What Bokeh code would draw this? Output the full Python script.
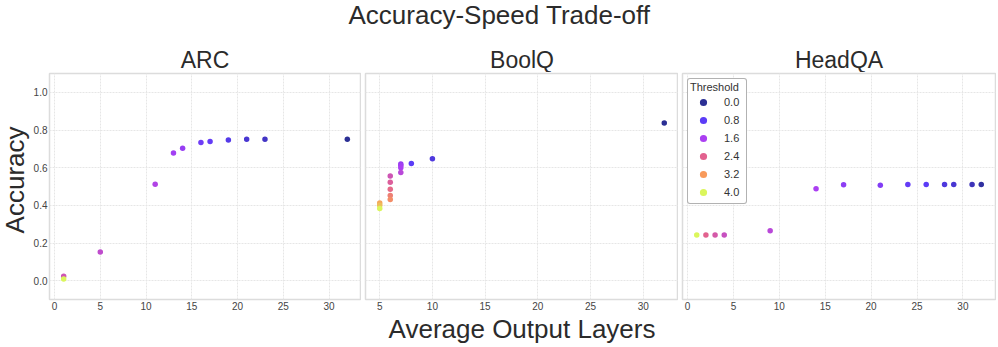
import numpy as np
from bokeh.plotting import figure
from bokeh.layouts import row, column
from bokeh.models import (Range1d, FixedTicker, LinearColorMapper, ColumnDataSource,
                          Legend, LegendItem, CustomJSTickFormatter)
from bokeh.core.properties import value
from bokeh.embed import file_html
from bokeh.resources import INLINE

# ---------------- data ----------------
TITLE = "Accuracy-Speed Trade-off"
PANEL_NAMES = ["ARC", "BoolQ", "HeadQA"]
X_LABEL = "Average Output Layers"
Y_LABEL = "Accuracy"
LEGEND_TITLE = "Threshold"

arc_layers = [1, 1, 5, 11, 13, 14, 16, 17, 19, 21, 23, 32]
arc_accuracy = [0.023, 0.009, 0.152, 0.512, 0.678, 0.703, 0.733, 0.739, 0.747, 0.751, 0.751, 0.751]
arc_threshold = [2.1, 4.0, 1.9, 1.7, 1.5, 1.4, 1.0, 0.9, 0.7, 0.5, 0.4, 0.0]

boolq_layers = [32, 10, 8, 7, 7, 7, 7, 6, 6, 6, 6, 6, 5, 5, 5]
boolq_accuracy = [0.837, 0.647, 0.622, 0.620, 0.611, 0.600, 0.574, 0.556, 0.523, 0.486,
                  0.452, 0.431, 0.412, 0.401, 0.383]
boolq_threshold = [0.0, 0.6, 0.8, 1.4, 1.5, 1.6, 1.8, 2.1, 2.3, 2.5, 2.8, 3.0, 3.3, 3.5, 4.0]

headqa_layers = [1, 2, 3, 4, 9, 14, 17, 21, 24, 26, 28, 29, 31, 32]
headqa_accuracy = [0.242, 0.242, 0.242, 0.242, 0.265, 0.488, 0.509, 0.507, 0.511, 0.511,
                   0.511, 0.511, 0.511, 0.511]
headqa_threshold = [4.0, 2.4, 2.2, 2.0, 1.8, 1.6, 1.3, 1.2, 0.9, 0.8, 0.6, 0.5, 0.3, 0.1]

legend_thresholds = [0.0, 0.8, 1.6, 2.4, 3.2, 4.0]
legend_labels = ["0.0", "0.8", "1.6", "2.4", "3.2", "4.0"]

y_ticks = [0.0, 0.2, 0.4, 0.6, 0.8, 1.0]
x_ticks = [0, 5, 10, 15, 20, 25, 30]
y_limits = [-0.1, 1.1]

# ---------------- style ----------------
FONT = "Liberation Sans"
TEXT_COLOR = "#2b2b2b"
TICK_COLOR = "#444444"
STOP_COLORS = ["#2b2f94", "#5b3cf7", "#ab3ff2", "#e2628f", "#f89a5b", "#dbf65c"]
BASE_SHIFT = 0.35   # empirical offset of bokeh's alphabetic baseline, in em


def hex2rgb(h):
    return [int(h[i:i + 2], 16) for i in (1, 3, 5)]


stops_rgb = np.array([hex2rgb(c) for c in STOP_COLORS], dtype=float)
grid_vals = np.linspace(legend_thresholds[0], legend_thresholds[-1], 256)
palette = ["#%02x%02x%02x" % tuple(int(round(np.interp(g, legend_thresholds, stops_rgb[:, k])))
                                  for k in range(3)) for g in grid_vals]
mapper = LinearColorMapper(palette=palette, low=legend_thresholds[0], high=legend_thresholds[-1])

HEADER_H = 72
FRAME_W = 313
FRAME_H = 226
TOP_B = 1
BOT_B = 15
PANEL_H = TOP_B + FRAME_H + BOT_B
FOOTER_H = 31
YLAB_W = 30
LEFT1 = 18
GAP = 4
RIGHT3 = 1
W1 = LEFT1 + FRAME_W
W2 = GAP + FRAME_W
W3 = GAP + FRAME_W + RIGHT3
TOTAL_W = YLAB_W + W1 + W2 + W3


def blank(width, height):
    p = figure(width=width, height=height, x_range=Range1d(0, width), y_range=Range1d(height, 0),
               output_backend="svg", toolbar_location=None, x_axis_location=None,
               y_axis_location=None, min_border=0, title=None)
    p.outline_line_color = None
    p.grid.visible = False
    p.background_fill_color = "white"
    p.border_fill_color = "white"
    return p


def panel(layers, acc, thr, width, left, right, show_y):
    span = max(layers) - min(layers)
    x0 = min(layers) - 0.05 * span
    x1 = max(layers) + 0.05 * span
    p = figure(width=width, height=PANEL_H, x_range=Range1d(x0, x1),
               y_range=Range1d(*y_limits), output_backend="svg", toolbar_location=None,
               title=None, min_border_left=left, min_border_right=right,
               min_border_top=TOP_B, min_border_bottom=BOT_B)
    p.background_fill_color = "white"
    p.border_fill_color = "white"
    p.outline_line_color = "#dcdcdc"
    p.outline_line_width = 1.5
    src = ColumnDataSource(dict(x=layers, y=acc, t=thr))
    p.scatter("x", "y", source=src, size=5.5,
              fill_color={"field": "t", "transform": mapper}, line_color=None)
    p.xaxis.ticker = FixedTicker(ticks=x_ticks)
    p.xgrid.ticker = FixedTicker(ticks=x_ticks)
    p.yaxis.ticker = FixedTicker(ticks=y_ticks)
    p.ygrid.ticker = FixedTicker(ticks=y_ticks)
    p.yaxis.formatter = CustomJSTickFormatter(code="return tick.toFixed(1);")
    for ax in (p.xaxis, p.yaxis):
        ax.axis_line_color = None
        ax.major_tick_line_color = None
        ax.minor_tick_line_color = None
        ax.major_tick_out = 0
        ax.major_tick_in = 0
        ax.minor_tick_out = 0
        ax.major_label_standoff = 2
        ax.major_label_text_font_size = "10px"
        ax.major_label_text_font = FONT
        ax.major_label_text_color = TICK_COLOR
    if not show_y:
        p.yaxis.visible = False
    p.grid.grid_line_color = "#e6e6e6"
    p.grid.grid_line_dash = "2 1"
    p.grid.grid_line_width = 1
    return p


p1 = panel(arc_layers, arc_accuracy, arc_threshold, W1, LEFT1, 0, True)
p2 = panel(boolq_layers, boolq_accuracy, boolq_threshold, W2, GAP, 0, False)
p3 = panel(headqa_layers, headqa_accuracy, headqa_threshold, W3, GAP, RIGHT3, False)

# legend (swatches use the same colour mapper)
items = []
for t, lab in zip(legend_thresholds, legend_labels):
    s = ColumnDataSource(dict(x=[np.nan], y=[np.nan], t=[t]))
    r = p3.scatter("x", "y", source=s, size=8,
                   fill_color={"field": "t", "transform": mapper}, line_color=None)
    items.append(LegendItem(label=lab, renderers=[r], index=0))
legend = Legend(items=items, location="top_left", title=LEGEND_TITLE)
legend.title_text_font = FONT
legend.title_text_font_size = "11px"
legend.title_text_font_style = "normal"
legend.title_text_color = "#333333"
legend.title_standoff = 0
legend.label_text_font = FONT
legend.label_text_font_size = "11px"
legend.label_text_color = "#333333"
legend.glyph_width = 26
legend.glyph_height = 18
legend.label_height = 16
legend.spacing = 0
legend.padding = 2
legend.label_standoff = 8
legend.margin = 5
legend.border_line_color = "#666666"
legend.border_line_width = 1
legend.background_fill_alpha = 1.0
if "border_radius" in Legend.properties():
    legend.border_radius = 3
p3.add_layout(legend)

# frame centres (page pixels) for the panel titles
c1 = YLAB_W + LEFT1 + FRAME_W / 2
c2 = YLAB_W + W1 + GAP + FRAME_W / 2
c3 = YLAB_W + W1 + W2 + GAP + FRAME_W / 2

header = blank(TOTAL_W, HEADER_H)
header.text(x=[TOTAL_W / 2 + 1], y=[24 - BASE_SHIFT * 26], text=[TITLE], text_align="center",
            text_baseline="alphabetic", text_font=value(FONT), text_font_size="26px",
            text_color=TEXT_COLOR)
header.text(x=[c1, c2, c3], y=[68 - BASE_SHIFT * 23] * 3, text=PANEL_NAMES,
            text_align="center", text_baseline="alphabetic", text_font=value(FONT),
            text_font_size="23px", text_color=TEXT_COLOR)

ylab = figure(width=YLAB_W, height=PANEL_H, x_range=Range1d(0, YLAB_W),
              y_range=Range1d(0, PANEL_H), output_backend="svg", toolbar_location=None,
              x_axis_location=None, y_axis_location=None, min_border=0, title=None)
ylab.outline_line_color = None
ylab.grid.visible = False
ylab.border_fill_color = "white"
ylab.text(x=[24 - BASE_SHIFT * 26], y=[PANEL_H - (TOP_B + FRAME_H / 2)], text=[Y_LABEL],
          angle=np.pi / 2, text_align="center", text_baseline="alphabetic",
          text_font=value(FONT), text_font_size="26px", text_color=TEXT_COLOR)

footer = blank(TOTAL_W, FOOTER_H)
footer.text(x=[c2], y=[24 - BASE_SHIFT * 26], text=[X_LABEL], text_align="center",
            text_baseline="alphabetic", text_font=value(FONT), text_font_size="26px",
            text_color=TEXT_COLOR)

layout = column(header, row(ylab, p1, p2, p3), footer)
open("out.html", "w").write(file_html(layout, INLINE))
